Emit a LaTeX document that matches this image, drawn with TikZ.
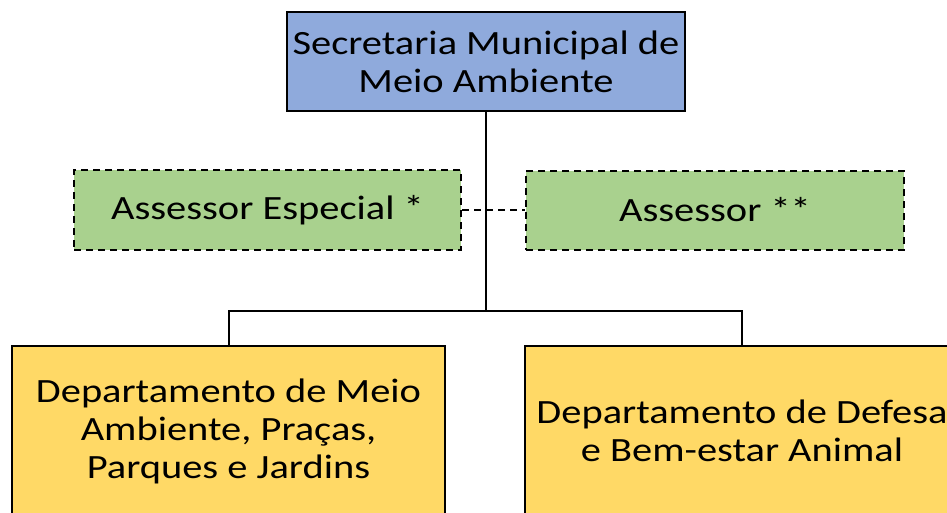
\documentclass[tikz,border=0pt]{standalone}
\usepackage{fontspec}
\setmainfont{Carlito}[FakeStretch=1.19]
\usetikzlibrary{calc}

\definecolor{secblue}{HTML}{8FAADC}
\definecolor{assgreen}{HTML}{A9D18E}
\definecolor{depyellow}{HTML}{FFD966}

\begin{document}
\begin{tikzpicture}[x=1pt,y=1pt,
  orgbox/.style={draw=black,line width=2pt,align=center,inner sep=0pt,
    font=\fontsize{34}{38}\selectfont},
  assbox/.style={orgbox,dash pattern=on 7pt off 5pt}]

\useasboundingbox (0,0) rectangle (947,-512);

% secretaria
\node[orgbox,fill=secblue,minimum width=398,minimum height=99] (sec) at (486,-61.5) {Secretaria Municipal de\\Meio Ambiente};

% assessores
\node[assbox,fill=assgreen,minimum width=387,minimum height=80] (ae) at (267.5,-210) {Assessor Especial *};
\node[assbox,fill=assgreen,minimum width=378,minimum height=79] (as) at (715,-210) {Assessor **};

% departamentos
\node[orgbox,fill=depyellow,minimum width=433,minimum height=170] (dma) at (228.5,-431) {Departamento de Meio\\Ambiente, Praças,\\Parques e Jardins};
\node[orgbox,fill=depyellow,minimum width=434,minimum height=170] (dba) at (742,-431) {Departamento de Defesa\\e Bem-estar Animal};

\coordinate (bus) at (486,-311);

% linhas
\draw[line width=2pt] (sec.south) -- (bus);
\draw[line width=2pt] (dma.north) |- (bus) -| (dba.north);
\draw[line width=2pt,dash pattern=on 7pt off 5pt] (ae.east) -- (as.west);

\end{tikzpicture}
\end{document}
